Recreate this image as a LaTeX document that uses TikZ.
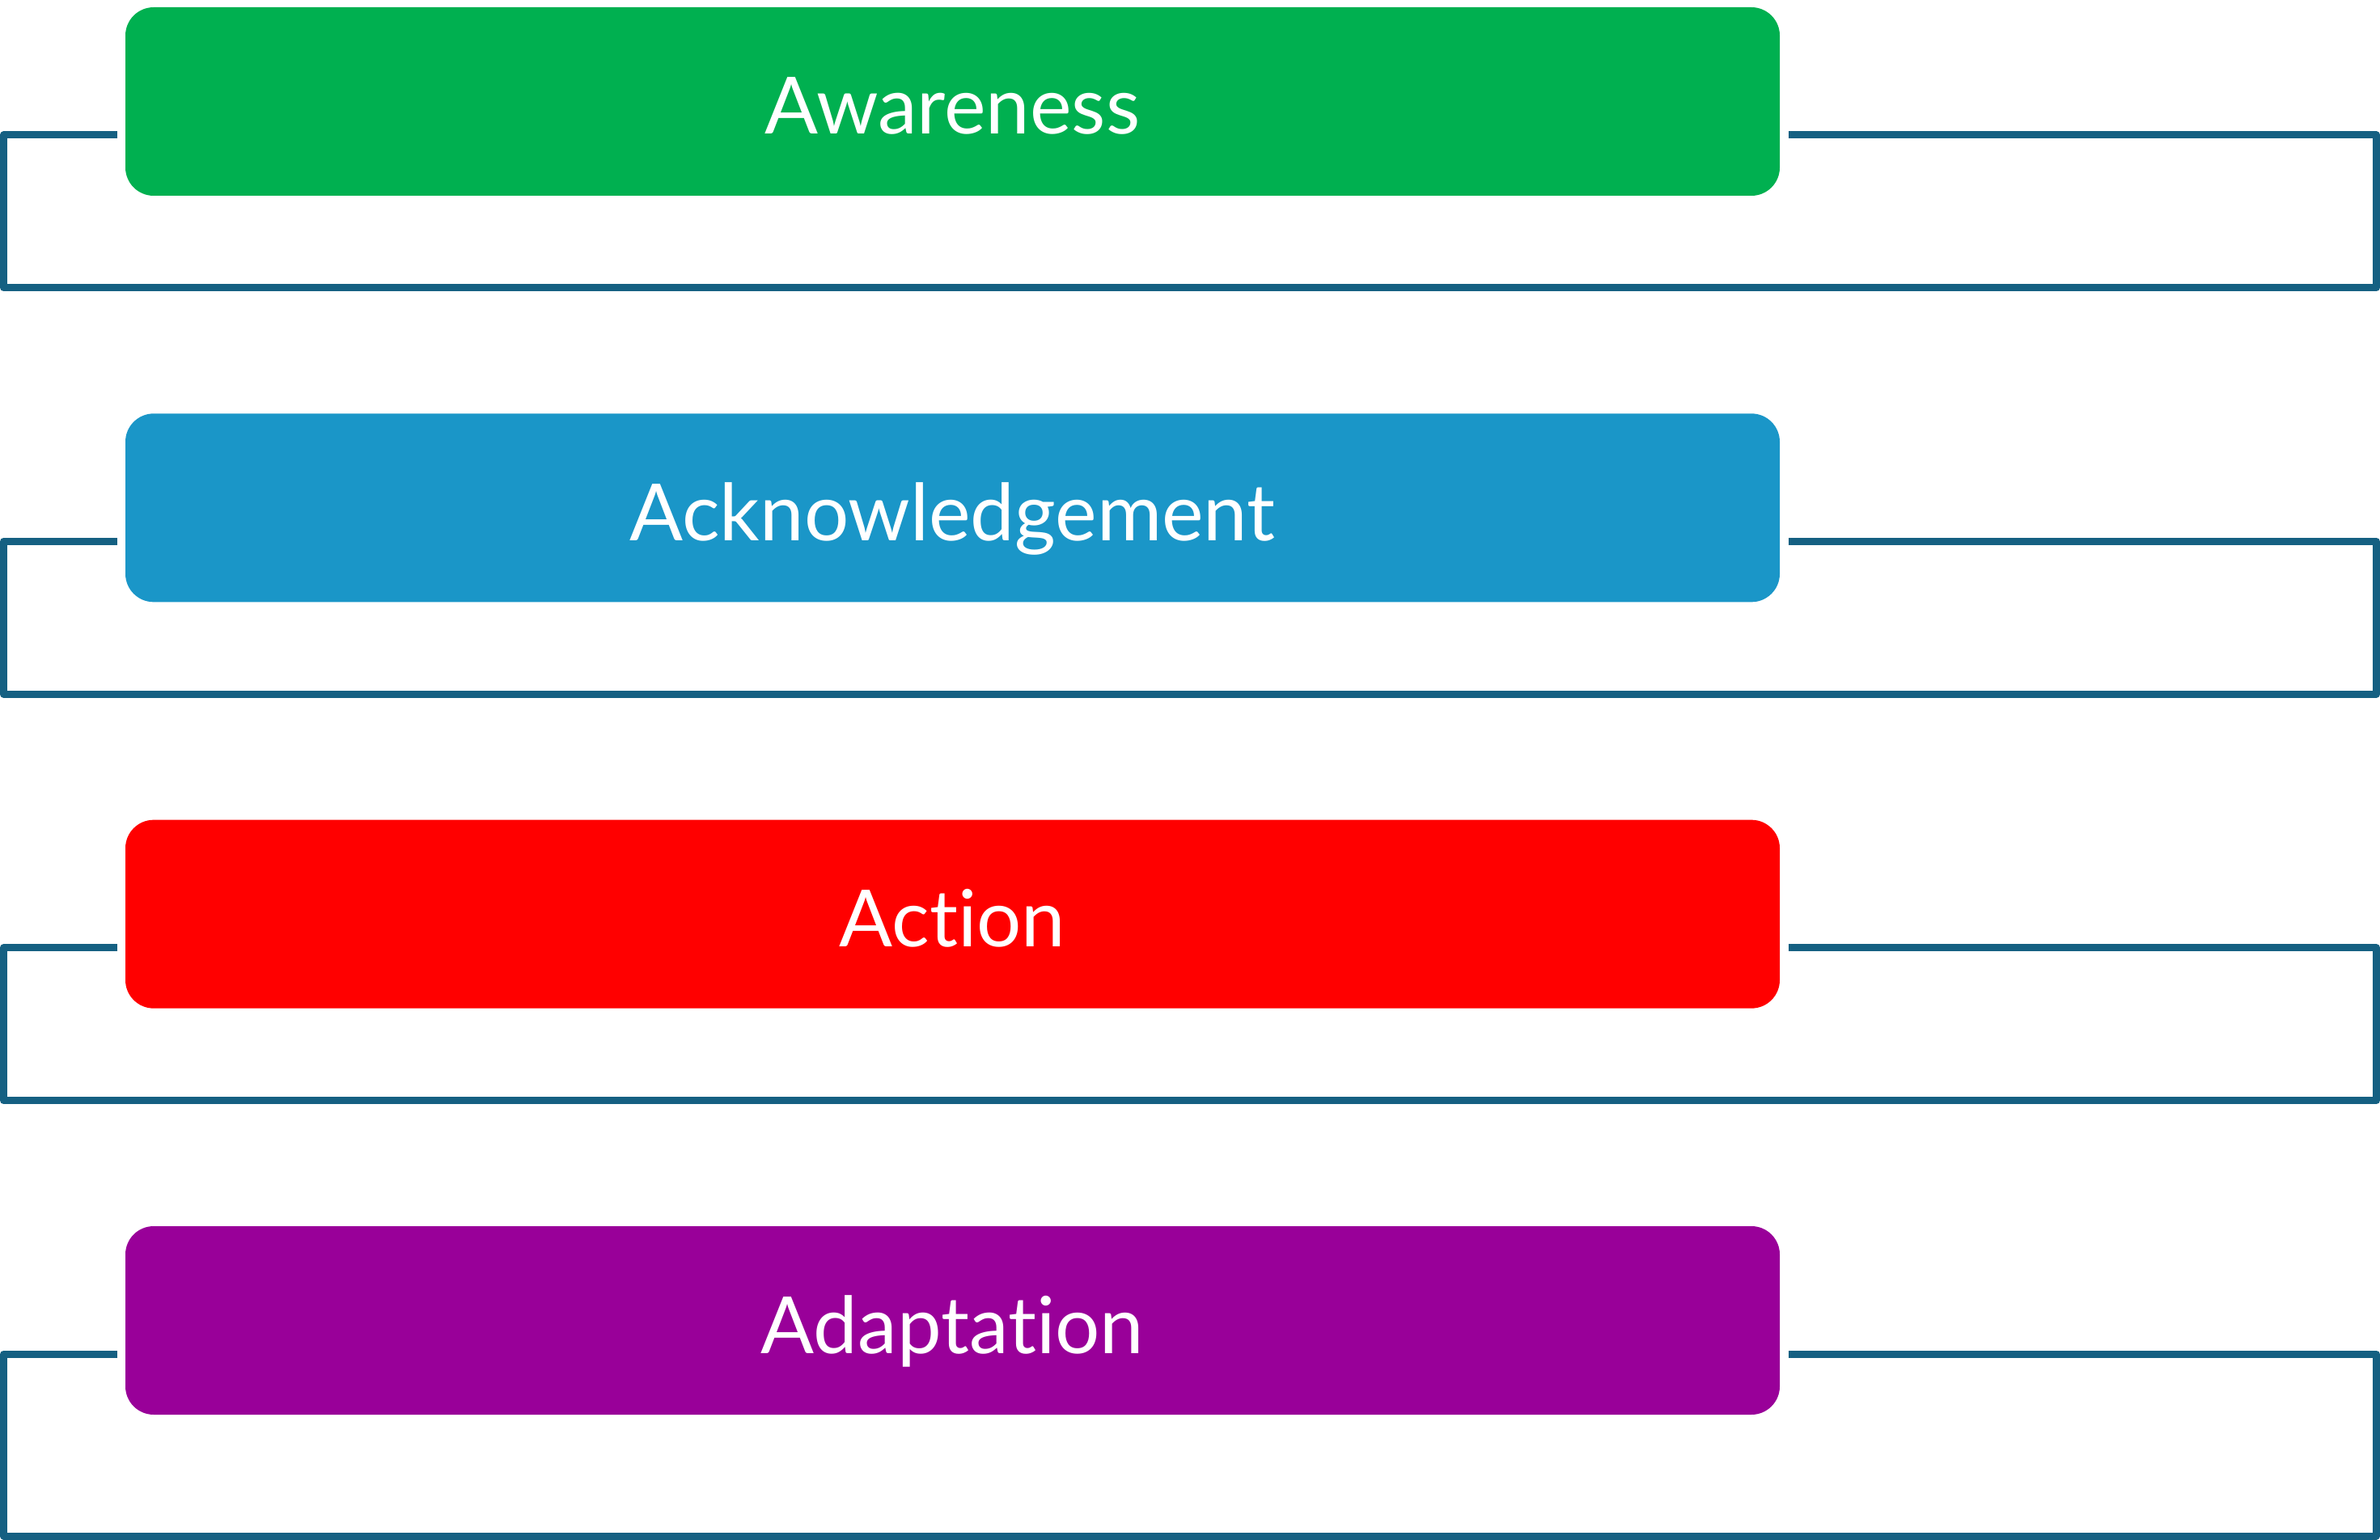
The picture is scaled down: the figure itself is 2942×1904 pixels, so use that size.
\documentclass[tikz,border=0pt]{standalone}
\usepackage{fontspec}
\setmainfont{Lato}[Ligatures={NoCommon}]
\definecolor{awgreen}{HTML}{00B050}
\definecolor{ackblue}{HTML}{1A96C8}
\definecolor{actred}{HTML}{FF0000}
\definecolor{adpurple}{HTML}{990099}
\definecolor{loopblue}{HTML}{156082}
\begin{document}
\begin{tikzpicture}[x=0.25pt,y=-0.25pt,
    stage/.style={rounded corners=8.75pt, minimum width=511.25pt, minimum height=58.25pt,
      inner sep=0pt, text=white, font=\fontsize{24.4pt}{30pt}\selectfont,
      text height=23.75pt, text depth=3.5pt},
    loopline/.style={draw=loopblue, line width=2.25pt, line join=round}]
  \useasboundingbox (0,0) rectangle (2942,1904);
  \foreach \name/\txt/\col/\drop [count=\i from 0] in {aware/Awareness/awgreen/230.5,
      ack/Acknowledgement/ackblue/230.5, act/Action/actred/230.5, adapt/Adaptation/adpurple/266.5} {
    \pgfmathsetmacro\yc{125.5+502.33*\i}
    \pgfmathsetmacro\ys{\yc+41.5}
    \pgfmathsetmacro\yb{\yc+\drop}
    \node[stage, fill=\col] (\name) at (1177.5,\yc) {\txt};
    \coordinate (\name-l) at ([shift={(-9,41.5)}]\name.west);
    \coordinate (\name-r) at ([shift={(10,41.5)}]\name.east);
    % feedback loop round the stage
    \draw[loopline] (\name-l) -- (4.5,\ys) -- (4.5,\yb) -- (2937.5,\yb) -- (2937.5,\ys) -- (\name-r);
  }
\end{tikzpicture}
\end{document}
